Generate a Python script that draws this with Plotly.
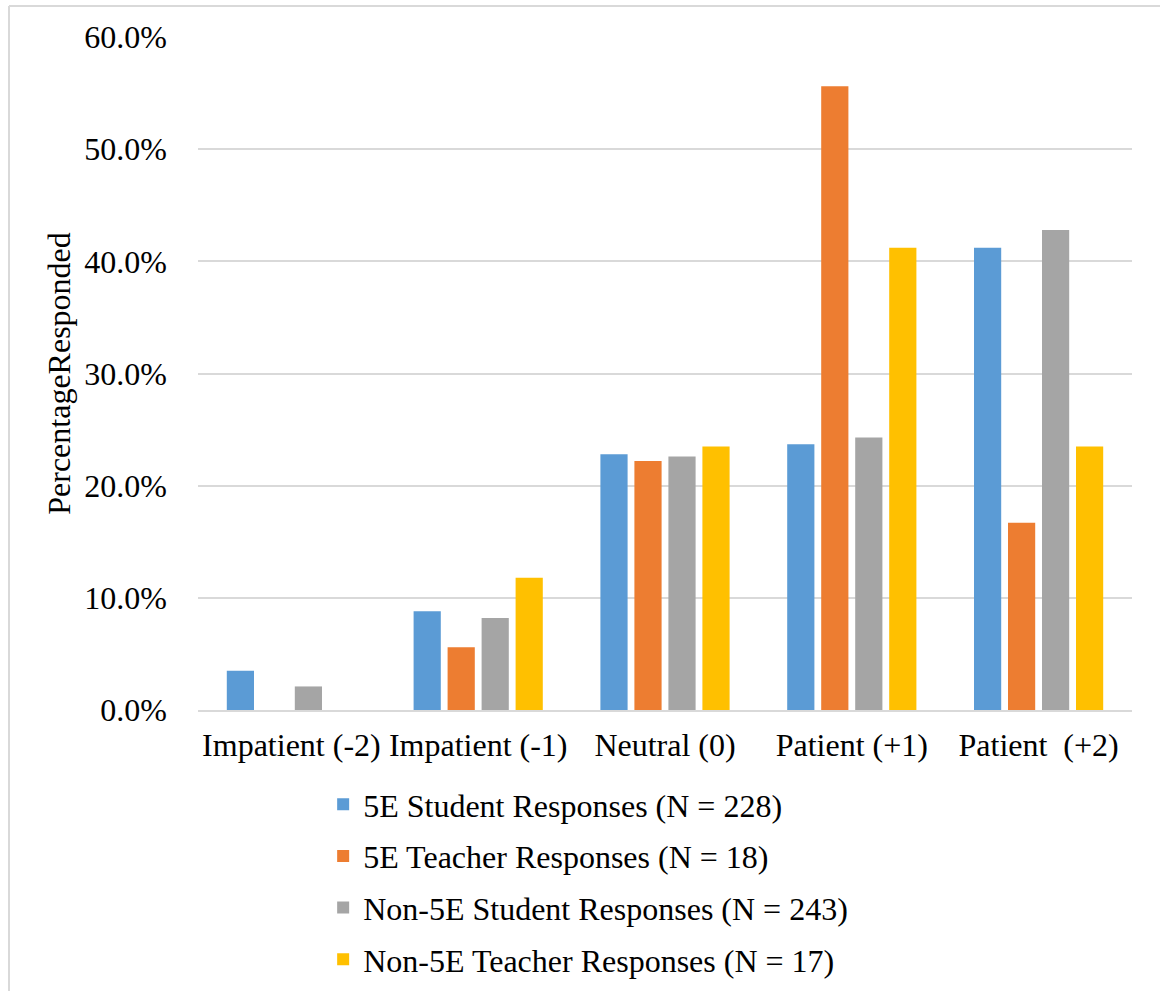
import plotly.graph_objects as go

categories = ["Impatient (-2)", "Impatient (-1)", "Neutral (0)", "Patient (+1)", "Patient  (+2)"]
series_names = [
    "5E Student Responses (N = 228)",
    "5E Teacher Responses (N = 18)",
    "Non-5E Student Responses (N = 243)",
    "Non-5E Teacher Responses (N = 17)",
]
student_5e = [3.5, 8.8, 22.8, 23.7, 41.2]
teacher_5e = [0.0, 5.6, 22.2, 55.6, 16.7]
student_non5e = [2.1, 8.2, 22.6, 24.3, 42.8]
teacher_non5e = [0.0, 11.8, 23.5, 41.2, 23.5]
y_ticks = [0, 10, 20, 30, 40, 50, 60]
y_tick_labels = [f"{v:.1f}%" for v in y_ticks]

colors = ["#5B9BD5", "#ED7D31", "#A5A5A5", "#FFC000"]
series = [student_5e, teacher_5e, student_non5e, teacher_non5e]

FONT = "Liberation Serif, Times New Roman, serif"
FS = 32

fig = go.Figure()
for i, (name, vals) in enumerate(zip(series_names, series)):
    fig.add_trace(go.Bar(
        x=categories, y=vals, name=name, marker_color=colors[i],
        marker_line_width=0, legendgroup=f"g{i}",
    ))

fig.update_layout(
    width=1160, height=991,
    paper_bgcolor="white", plot_bgcolor="white",
    font=dict(family=FONT, size=FS, color="black"),
    margin=dict(l=198, r=28, t=37, b=281, autoexpand=False),
    barmode="group", bargap=0.272, bargroupgap=0.2,
    showlegend=True,
    legend=dict(
        orientation="v", x=0.134, xanchor="left", y=-0.0996, yanchor="top",
        font=dict(family=FONT, size=FS), tracegroupgap=7,
        itemwidth=30, bgcolor="rgba(0,0,0,0)",
    ),
    xaxis=dict(
        showgrid=False, showline=True, linecolor="#d9d9d9", linewidth=2,
        ticks="", tickfont=dict(family=FONT, size=FS), ticklabelstandoff=6,
        automargin=False,
    ),
    yaxis=dict(
        range=[0, 60], tickmode="array", tickvals=y_ticks, ticktext=y_tick_labels,
        showgrid=True, gridcolor="#d9d9d9", gridwidth=1.5,
        zeroline=False, showline=False, ticks="",
        tickfont=dict(family=FONT, size=FS), ticklabelstandoff=30,
        title=dict(text="PercentageResponded", font=dict(family=FONT, size=FS), standoff=4),
        automargin=False,
    ),
    shapes=[
        dict(type="line", xref="paper", yref="paper", x0=(9 - 198) / 934, x1=1.2,
             y0=(710 - 6) / 673, y1=(710 - 6) / 673, line=dict(color="#d9d9d9", width=2)),
        dict(type="line", xref="paper", yref="paper", x0=(9 - 198) / 934, x1=(9 - 198) / 934,
             y0=(710 - 6) / 673, y1=-0.5, line=dict(color="#d9d9d9", width=2)),
    ],
)

fig.write_html("out.html", config={"displayModeBar": False},
               post_script="document.body.style.margin='0';")
